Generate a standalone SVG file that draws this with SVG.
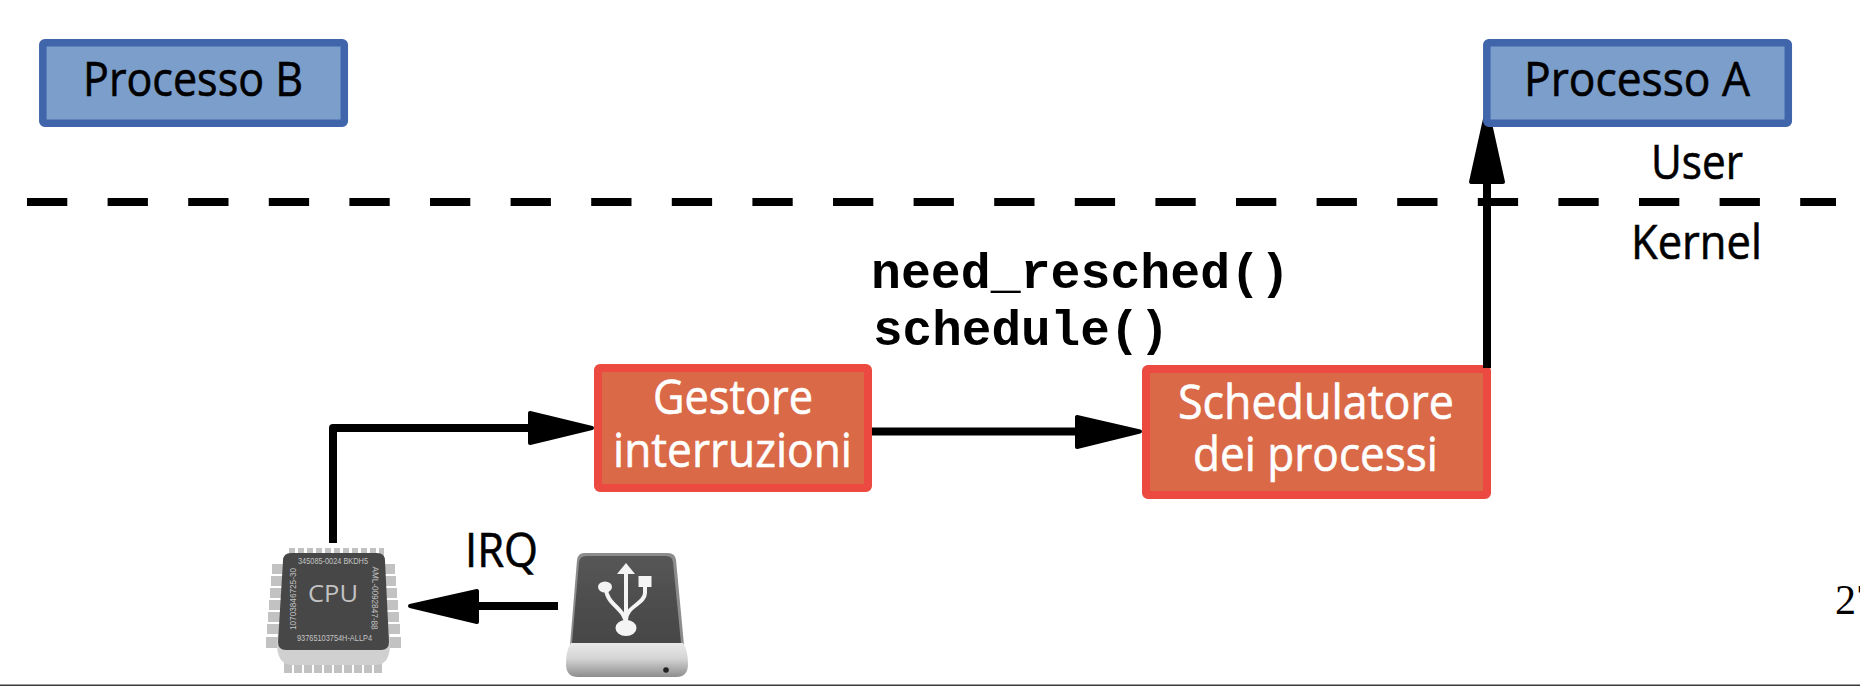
<svg xmlns="http://www.w3.org/2000/svg" width="1860" height="686" viewBox="0 0 1860 686">
<style>
.box{stroke-width:7.5}
.blue{fill:#7b9ecb;stroke:#4065ab}
.red{fill:#da6947;stroke:#ec4a40;stroke-width:8}
.t{font-family:"Open Sans","Noto Sans",sans-serif;font-size:47px;stroke:#000;stroke-width:.6}
.w{fill:#fff;stroke:#fff}
.m{font-family:"Liberation Mono",monospace;font-size:50px;font-weight:bold}
.line{fill:none;stroke:#000;stroke-width:8}
.head{fill:#000;stroke:#000;stroke-width:4;stroke-linejoin:round}
.c{font-family:"Liberation Sans",sans-serif;font-size:8.8px;fill:#c4c4c4}
.pin{fill:#c2c2c2}
</style>
<defs>
<linearGradient id="base" x1="0" y1="0" x2="0" y2="1"><stop offset="0" stop-color="#e9e9e9"/><stop offset=".45" stop-color="#d5d5d5"/><stop offset="1" stop-color="#8d8d8d"/></linearGradient>
<linearGradient id="face" x1="0" y1="0" x2="0" y2="1"><stop offset="0" stop-color="#565656"/><stop offset="1" stop-color="#464646"/></linearGradient>
<filter id="soft" x="-5%" y="-5%" width="110%" height="110%"><feGaussianBlur stdDeviation=".5"/></filter>
</defs>
<rect width="1860" height="686" fill="#fff"/>
<rect x="0" y="684.500" width="1860" height="1.500" fill="#3a3a3a"/>

<g id="gestore">
<rect class="red" x="598" y="368" width="270" height="120" rx="2"/>
<text class="t w" x="653" y="414" textLength="160" lengthAdjust="spacingAndGlyphs">Gestore</text>
<text class="t w" x="613" y="467" textLength="239" lengthAdjust="spacingAndGlyphs">interruzioni</text>
</g>
<g id="schedulatore">
<rect class="red" x="1146" y="369" width="341" height="126" rx="2"/>
<text class="t w" x="1178" y="419" textLength="276" lengthAdjust="spacingAndGlyphs">Schedulatore</text>
<text class="t w" x="1193" y="471" textLength="245" lengthAdjust="spacingAndGlyphs">dei processi</text>
</g>

<g id="connectors">
<line class="line" x1="27" y1="202" x2="1836" y2="202" stroke-dasharray="40.3 40.3"/>
<path class="line" d="M333 543V428H540" stroke-linejoin="round"/>
<polygon class="head" points="530,413 530,443 592,428"/>
<line class="line" x1="872" y1="431.500" x2="1090" y2="431.500"/>
<polygon class="head" points="1077,417 1077,447 1140,431.500"/>
<line class="line" x1="1487" y1="368" x2="1487" y2="170"/>
<polygon class="head" points="1471,182 1503,182 1487,110"/>
<line class="line" x1="558" y1="606" x2="470" y2="606"/>
<polygon class="head" points="477,591 477,622 410,606"/>
</g>

<g id="processo-b">
<rect class="box blue" x="42.800" y="42.800" width="301.500" height="80.500" rx="2"/>
<text class="t" x="83" y="96" textLength="220" lengthAdjust="spacingAndGlyphs">Processo B</text>
</g>
<g id="processo-a">
<rect class="box blue" x="1486.800" y="42.800" width="301.500" height="80.500" rx="2"/>
<text class="t" x="1524" y="96" textLength="226" lengthAdjust="spacingAndGlyphs">Processo A</text>
</g>

<g id="labels">
<text class="t" x="1651" y="179" textLength="92" lengthAdjust="spacingAndGlyphs">User</text>
<text class="t" x="1631" y="259" textLength="131" lengthAdjust="spacingAndGlyphs">Kernel</text>
<text class="t" x="465" y="567" textLength="73" lengthAdjust="spacingAndGlyphs">IRQ</text>
<text class="m" x="871" y="288" textLength="419" lengthAdjust="spacingAndGlyphs">need_resched()</text>
<text class="m" x="873" y="345" textLength="296" lengthAdjust="spacingAndGlyphs">schedule()</text>
<text x="1835" y="614" font-family="'Liberation Serif',serif" font-size="42">27</text>
</g>

<g id="cpu">
<g filter="url(#soft)">
<path class="pin" d="M289 548h6v9h-6zM298 548h6v9h-6zM307 548h6v9h-6zM316 548h6v9h-6zM325 548h6v9h-6zM334 548h6v9h-6zM343 548h6v9h-6zM352 548h6v9h-6zM361 548h6v9h-6zM370 548h6v9h-6zM379 548h5v9h-5z"/>
<path class="pin" d="M284 660h8v13h-8zM294 660h8v13h-8zM304 660h8v13h-8zM314 660h8v13h-8zM324 660h8v13h-8zM334 660h8v13h-8zM344 660h8v13h-8zM354 660h8v13h-8zM364 660h8v13h-8zM374 660h8v13h-8z"/>
<path class="pin" d="M272 564h14v10h-14zM271 576h14v10h-14zM270 588h14v10h-14zM269 600h14v10h-14zM268 612h14v10h-14zM267 624h14v10h-14zM266 637h14v11h-14z"/>
<path class="pin" d="M380 564h15v10h-15zM382 576h14v10h-14zM383 588h14v10h-14zM384 600h14v10h-14zM385 612h14v10h-14zM386 624h14v10h-14zM387 637h14v11h-14z"/>
<path d="M284 600L277 640Q276 665 292 665H376Q391 665 390 640L386 600Z" fill="#d0d0d0"/>
<path d="M291 553H377Q385 553 385 561L389 642Q389 650 381 650H286Q278 650 278 642L283 561Q283 553 291 553Z" fill="#474747"/>
</g>
<text x="333" y="602" text-anchor="middle" font-family="'Open Sans',sans-serif" font-size="23" fill="#c2c2c2" textLength="50" lengthAdjust="spacingAndGlyphs">CPU</text>
<text class="c" x="333" y="564" text-anchor="middle" textLength="70" lengthAdjust="spacingAndGlyphs">345085-0024 BKDH5</text>
<text class="c" x="334.500" y="641" text-anchor="middle" textLength="75" lengthAdjust="spacingAndGlyphs">93765103754H-ALLP4</text>
<text class="c" text-anchor="middle" transform="translate(296 599) rotate(-90)" textLength="62" lengthAdjust="spacingAndGlyphs">10703846725-30</text>
<text class="c" text-anchor="middle" transform="translate(372 598) rotate(91)" textLength="63" lengthAdjust="spacingAndGlyphs">AML-0092847-88</text>
</g>

<g id="usb">
<g filter="url(#soft)">
<path d="M584 553H668Q675 553 676 560L684 645H570L577 560Q578 553 584 553Z" fill="#8c8c8c"/>
<path d="M586 556H666Q672 556 673 562L681 643H572L579 562Q580 556 586 556Z" fill="url(#face)"/>
<path d="M571 643H683Q688 650 688 664Q688 677 676 677H578Q566 677 566 664Q566 650 571 643Z" fill="url(#base)"/>
</g>
<circle cx="666" cy="670" r="2.800" fill="#222"/>
<g fill="none" stroke="#f4f4f4" stroke-width="4">
<path d="M626 572V625"/>
<path d="M606 588C606 605 626 608 626 625"/>
<path d="M645 585V593C645 604 626 606 626 620"/>
</g>
<g fill="#f4f4f4">
<path d="M626 563L635 574H617Z"/>
<ellipse cx="626" cy="628" rx="10.500" ry="8"/>
<ellipse cx="605" cy="587" rx="7" ry="5.500"/>
<rect x="638.500" y="576" width="13" height="11"/>
</g>
</g>
</svg>
